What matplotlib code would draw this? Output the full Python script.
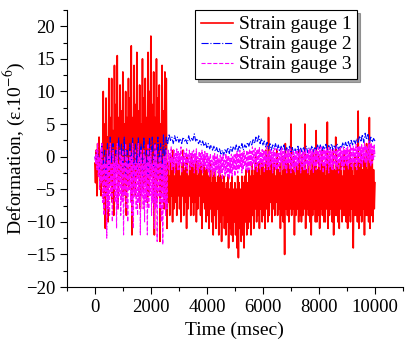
import numpy as np
import matplotlib
matplotlib.use("Agg")
import matplotlib.pyplot as plt

plt.rcParams['font.family'] = ['Liberation Serif', 'DejaVu Serif']
plt.rcParams['mathtext.fontset'] = 'stix'

time_fine = np.arange(0, 10001, 25)    # gauges 1 and 3
time_coarse = np.arange(0, 10001, 50)  # gauge 2

gauge1 = [
    -1, -4, 1, -6, 2, -3, 3, -5, 0, -6, 2, -4, 10, -8, 5, -11, 9, -6, 3, -10,
    12, -4, 6, -3, 12, -7, 4, -9, 14, -5, 8, -2, 15.5, -8, 6, -4, 11, -3, 7, -6,
    13, -6, 5, -2, 10, -9, 6, -4, 12, -5, 9, -3, 17, -12, 6, -5, 14, -6, 8, -3,
    16, -3, 7, -6, 11, -8, 5, -2, 15, -5, 9, -4, 12, -4, 6, -7, 16, -6, 10, -3,
    18.5, -3, 8, -5, 13, -12, 6, -4, 15, -7, 9, -3, 11, -13, 5, -6, 14, -5, 7, -8,
    13, -8, 12, -11, -1, -7, -3, -9, 0, -6, -2, -10, 1, -8, -3, -7, -1, -9, -2, -6,
    0, -8, -3, -10, -1, -6, 1, -9, -2, -7, -1, -11, 0, -8, -3, -6, -1, -9, 0, -7,
    -1, -9, -2, -7, 0, -10, -3, -8, -1, -6, -2, -9, -1, -11, -3, -7, 0, -8, -2, -10,
    -2, -9, -3, -11, -1, -8, -4, -10, -2, -12, -3, -9, -2, -11, -4, -8, -3, -12, -2, -10,
    -3, -13, -4, -9, -3, -11, -5, -12, -4, -10, -3, -14, -5, -11, -4, -12, -3, -13, -5, -10,
    -4, -12, -5, -14, -3, -15.5, -4, -11, -5, -13, -3, -12, -4, -14, -3, -10, -2, -12, -4, -11,
    -2, -10, -3, -12, -1, -9, -3, -11, -2, -8, 0, -10, -2, -9, -1, -11, -3, -8, -1, -10,
    -1, -9, -2, -11, 1, -8, -1, -10, 6, -9, -2, -7, 0, -10, -2, -8, -1, -9, -3, -7,
    1, -9, -2, -8, -1, -11, -3, -9, 0, -10, -2, -15, 2, -8, -1, -9, -1, -10, -2, -8,
    5, -9, -2, -8, 0, -12, -3, -9, -1, -8, -2, -10, 1, -9, -1, -10, 0, -9, -2, -8,
    5, -11, -2, -8, -1, -9, -3, -10, 0, -12, -2, -9, 1, -8, -1, -10, 4, -10, -2, -9,
    0, -11, -2, -8, 1, -9, -1, -10, -1, -10, -3, -8, 5.3, -11, -1, -9, 0, -8, -2, -10,
    1, -12, -2, -9, 3, -9, -1, -10, -1, -11, -2, -8, 0, -10, -3, -9, 1, -9, -1, -10,
    0, -11, -2, -9, 1, -10, -1, -8, -1, -14, -3, -9, 0, -9, -2, -10, 7, -11, -1, -9,
    1, -10, -2, -8, 0, -12, -1, -9, 2, -9, -2, -10, 6, -11, -1, -9, 1, -10, -2, -8,
    -4]

gauge2 = [
    0, -1, 1, -2, 0, 2, -2, 1, -3, 2,
    -2, 3, -1, 2, -3, 1, -2, 3, -1, 2,
    -2, 3, -3, 1, -2, 2, -1, 3, -3, 2,
    -2, 3, -1, 2, -3, 3, -2, 1, -3, 3,
    -1, 3, -2, 2, -3, 3, -1, 2, -3, 3.5,
    -2, 3, 2, 3.5, 2.5, 3, 2, 3.2, 2.4, 3,
    2.2, 2.8, 2, 3, 2.4, 2.6, 2, 3.2, 2.3, 2.8,
    2.5, 3.5, 2.4, 2.8, 2, 2.5, 1.8, 2.4, 1.6, 2.2,
    1.4, 2, 1.2, 1.8, 1, 1.6, 0.8, 1.4, 0.6, 1.2,
    0.4, 1, 0.2, 1.2, 0.6, 1.4, 0.5, 1.5, 0.8, 1.6,
    1, 1.8, 0.8, 1.6, 1.2, 2, 1, 1.8, 1.4, 2.2,
    1.6, 2.4, 1.8, 2.6, 2, 3, 2.2, 3.2, 2, 2.8,
    1.8, 2.4, 1.5, 2.2, 1.2, 2, 1, 1.8, 1.2, 2,
    1, 1.8, 0.8, 1.6, 1, 1.8, 0.6, 1.4, 0.8, 1.6,
    0.6, 1.4, 0.4, 1.2, 0.6, 1.6, 0.5, 1.3, 0.7, 1.5,
    0.8, 1.6, 0.6, 1.4, 0.9, 1.7, 0.7, 1.5, 1, 1.8,
    1, 1.8, 0.8, 1.6, 1.1, 1.9, 0.9, 1.7, 1.2, 2,
    1, 1.8, 1.2, 2, 1, 1.7, 1.3, 2.1, 1.4, 2.2,
    1.5, 2.3, 1.6, 2.5, 1.8, 2.6, 2, 2.8, 2.2, 3.2,
    2.4, 3.4, 2.2, 3.6, 2.6, 3.4, 2, 3, 2.2, 2.8,
    2.4]

gauge3 = [
    0, -1, 1, -2, 2, -3, 0, -5, 1, -4, 2, -7, -1, -9, 0, -6, -1, -12.5, 1, -8,
    0, -9, 2, -6, -1, -10, 1, -5, -1, -7, 0, -11, 2, -8, -1, -6, 1, -9, 0, -7,
    1, -12, -1, -6, 2, -8, 0, -10, -1, -5, 1, -7, 0, -9, 2, -11, -1, -6, 1, -8,
    -1, -9, 2, -7, 0, -12, 1, -6, -1, -8, 1, -10, 0, -7, -1, -12, 2, -8, 0, -6,
    1, -9, -1, -7, 0, -11, 2, -8, 1, -13, -1, -6, 0, -8, 1, -10, -1, -13.5, 0, -7,
    0, -9, 1, -8, -1.5, 1, -2, 0.5, -1, 1.5, -2, 0, -1.5, 1, -2.5, 0.5, -1, 1.2, -2, 0.8,
    -2, 0.5, -1, 1.5, -2.5, 0, -1, 1, -2, 0.5, -1.5, 1.2, -2.5, 0.3, -1, 1, -2, 0.5, -1.5, 0.8,
    -1.5, 1, -2.5, 0.5, -1, 1.2, -2, 0, -2.5, 0.8, -1.5, 0.5, -2, 1, -2.5, 0.3, -1.5, 0.8, -2, 0.5,
    -2, 0.5, -2.5, 0, -3, 0.5, -2, -0.5, -3, 0.3, -2.5, 0.5, -3, 0, -2, 0.3, -2.5, -0.3, -3, 0.2,
    -2.5, 0, -3.5, 0.3, -2, -0.5, -3, 0.5, -2.5, 0, -3, 0.2, -3.5, -0.2, -2.5, 0.4, -3, 0, -2, 0.3,
    -3, 0.5, -2, 0.8, -2.5, 0.3, -2, 1, -1.5, 0.5, -2.5, 0.6, -2, 0.9, -1.5, 0.4, -2, 1, -2.5, 0.7,
    -2, 1.2, -1.5, 0.8, -2, 1.5, -1, 1, -2, 1.3, -1.5, 0.9, -2.5, 1.2, -1, 1.4, -2, 0.8, -1.5, 1.1,
    -1.5, 1, -2.5, 0.8, -1, 1.5, -2, 0.5, -1.5, 1, -2, 1.2, -1, 0.7, -2.5, 1, -1.5, 1.3, -2, 0.6,
    -2, 1.2, -1.5, 0.5, -2.5, 1, -1, 1.3, -2, 0.8, -1.5, 1, -2, 0.6, -2.5, 1.1, -1, 0.9, -2, 1.2,
    -2.5, 0.5, -1.5, 1, -2, 0.3, -2.5, 0.8, -1.5, 1, -2, 0.6, -1, 1.1, -2.5, 0.4, -1.5, 0.9, -2, 0.7,
    -2, 1.2, -1, 0.5, -2.5, 1, -1.5, 1.3, -2, 0.8, -1, 1.1, -2.5, 0.6, -1.5, 1.2, -2, 0.9, -1, 1.4,
    -1.5, 1, -2, 1.5, -1, 0.8, -2.5, 1.2, -1.5, 1, -2, 1.3, -1, 0.9, -2.5, 1.4, -1.5, 1.1, -2, 0.8,
    -2, 1.3, -1, 0.8, -2, 1.5, -1.5, 1, -2.5, 1.2, -1, 1.4, -2, 0.9, -1.5, 1.5, -2, 1.1, -1, 1.3,
    -1.5, 1.5, -2, 1, -1, 1.8, -1.5, 1.3, -2, 1.6, -1, 1.2, -1.5, 1.9, -2, 1.4, -1, 1.7, -1.5, 1.5,
    -1, 2, -1.5, 1.5, -0.5, 2.2, -1, 1.8, -1.5, 1.5, -0.5, 2.4, -1, 1.9, -1.5, 2.1, -1, 1.6, -0.5, 1.8,
    0]

labels = ['Strain gauge 1', 'Strain gauge 2', 'Strain gauge 3']

fig = plt.figure(figsize=(4.05, 3.45), dpi=100)
ax = fig.add_axes([0.165, 0.168, 0.83, 0.803])

ax.plot(time_fine, gauge1, color='#ff0000', lw=1.2, ls='-', label=labels[0])
ax.plot(time_coarse, gauge2, color='#0000ff', lw=0.8, ls='-.', label=labels[1])
ax.plot(time_fine, gauge3, color='#ff00ff', lw=0.8, ls='--', label=labels[2])

ax.set_xlim(-1000, 11000)
ax.set_ylim(-20, 22.5)
ax.set_xticks(np.arange(0, 10001, 2000))
ax.set_xticks(np.arange(-1000, 11001, 1000), minor=True)
ax.set_yticks(np.arange(-20, 21, 5))
ax.set_yticks(np.arange(-20, 22.6, 2.5), minor=True)
ax.tick_params(which='major', direction='out', length=5, width=0.8, labelsize=13.5)
ax.tick_params(which='minor', direction='out', length=3, width=0.8)
ax.spines['top'].set_visible(False)
ax.spines['right'].set_visible(False)

ax.set_xlabel('Time (msec)', fontsize=14)
ax.set_ylabel('Deformation, (ε.10$^{-6}$)', fontsize=14)
ax.yaxis.set_label_coords(-0.117, 0.5)

leg = ax.legend(loc='upper left', bbox_to_anchor=(0.381, 1.0), fontsize=14,
                frameon=True, fancybox=False, shadow=True, edgecolor='black',
                handlelength=1.65, handletextpad=0.3, borderpad=0.3,
                labelspacing=0.12, borderaxespad=0)
leg.get_frame().set_linewidth(0.8)

fig.savefig('out.png', dpi=100)
